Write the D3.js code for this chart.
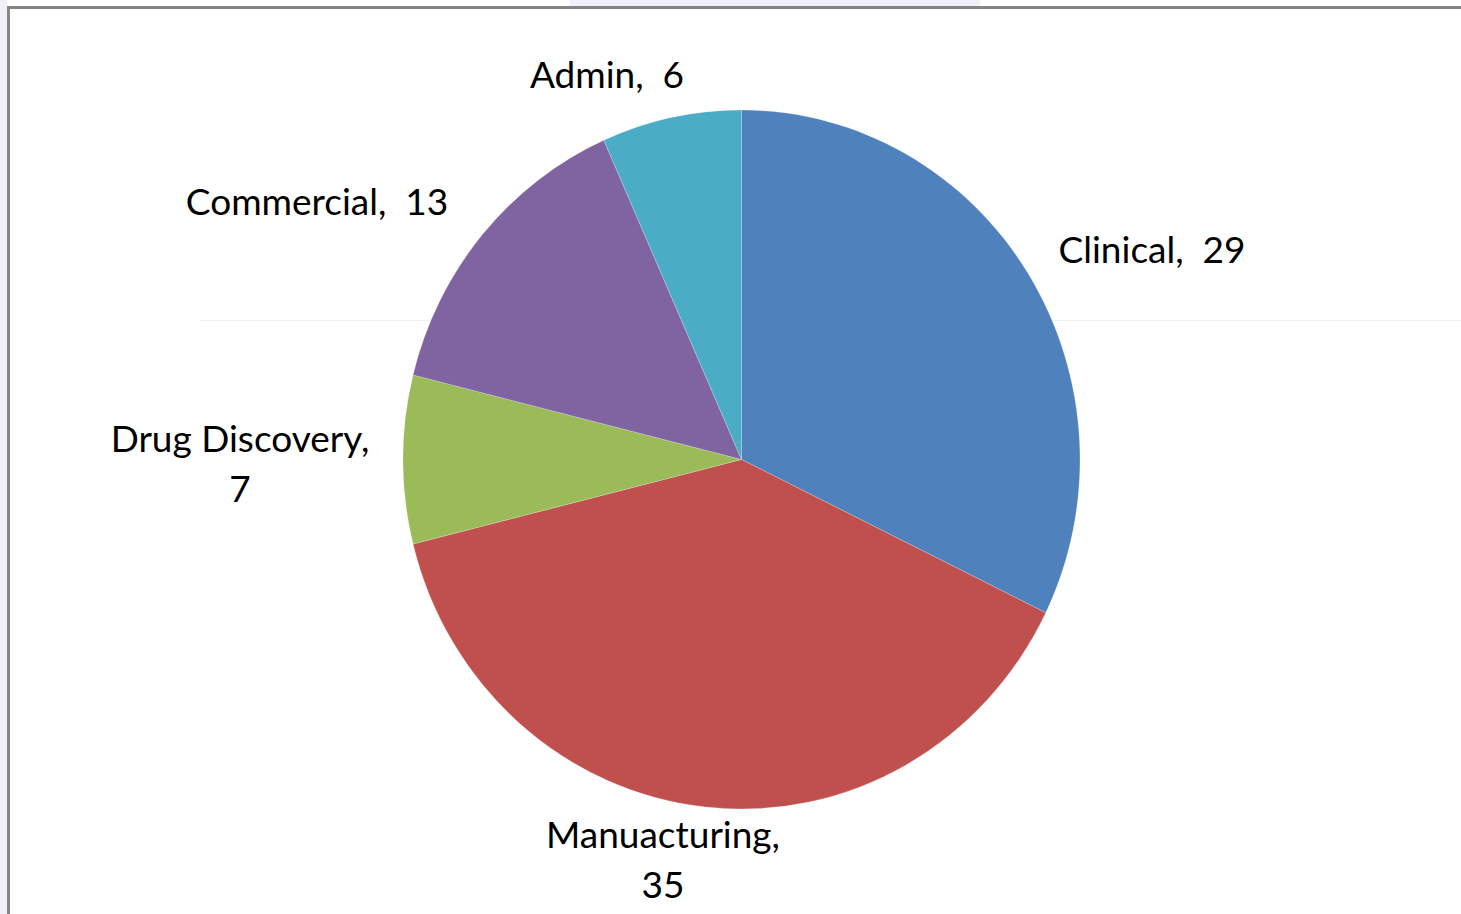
<!DOCTYPE html>
<html>
<head>
<meta charset="utf-8">
<script src="https://cdn.jsdelivr.net/npm/d3@7"></script>
<style>
  body { margin: 0; background: #fff; }
  svg { display: block; }
  .lbl { font-family: Lato, "Open Sans", sans-serif; font-size: 37px; fill: #000; white-space: pre; }
</style>
</head>
<body>
<div id="chart"></div>
<script>
// data, clockwise from 12 o'clock
var categories = ["Clinical", "Manuacturing", "Drug Discovery", "Commercial", "Admin"];
var values = [29, 35, 7, 13, 6];
var colors = ["#4F81BD", "#C0504D", "#9BBB59", "#8064A2", "#4BACC6"];

// label layout: lines of text, centre x, first baseline y
var labelLines = [["Clinical,  29"], ["Manuacturing,", "35"], ["Drug Discovery,", "7"], ["Commercial,  13"], ["Admin,  6"]];
var labelPos = [[1152, 263], [663, 848], [240, 452], [317, 215], [607, 88]];

var W = 1461, H = 914;
var cx = 741.5, cy = 459.5, ry = 349.5, rx = 338.5;

var svg = d3.select("#chart").append("svg")
    .attr("width", W)
    .attr("height", H);

// faint background bits from the screenshot
svg.append("rect").attr("x", 0).attr("y", 0).attr("width", 7).attr("height", H).attr("fill", "#f1f0f6");
svg.append("rect").attr("x", 570).attr("y", 0).attr("width", 410).attr("height", 6).attr("fill", "#f1f0f6");
svg.append("line").attr("x1", 200).attr("x2", W).attr("y1", 320.5).attr("y2", 320.5)
    .attr("stroke", "#f1f0f8").attr("stroke-width", 1);

// frame (top and left edges visible)
svg.append("path")
    .attr("d", "M8.5," + H + " L8.5,7.5 L" + W + ",7.5")
    .attr("fill", "none")
    .attr("stroke", "#858585")
    .attr("stroke-width", 3);

var pie = d3.pie().sort(null).value(function (d) { return d; });
var arc = d3.arc().innerRadius(0).outerRadius(ry);

var g = svg.append("g")
    .attr("transform", "translate(" + cx + "," + cy + ") scale(" + (rx / ry) + ",1)");

g.selectAll("path.slice")
    .data(pie(values))
    .enter().append("path")
    .attr("class", "slice")
    .attr("d", arc)
    .attr("fill", function (d, i) { return colors[i]; })
    .attr("stroke", "#ffffff")
    .attr("stroke-opacity", 0.35)
    .attr("stroke-width", 0.6);

var labels = svg.selectAll("text.lbl")
    .data(categories)
    .enter().append("text")
    .attr("class", "lbl")
    .attr("text-anchor", "middle")
    .attr("x", function (d, i) { return labelPos[i][0]; })
    .attr("y", function (d, i) { return labelPos[i][1]; });

labels.each(function (d, i) {
    var t = d3.select(this);
    labelLines[i].forEach(function (line, j) {
        t.append("tspan")
            .attr("x", labelPos[i][0])
            .attr("dy", j === 0 ? 0 : 50)
            .text(line);
    });
});
</script>
</body>
</html>
